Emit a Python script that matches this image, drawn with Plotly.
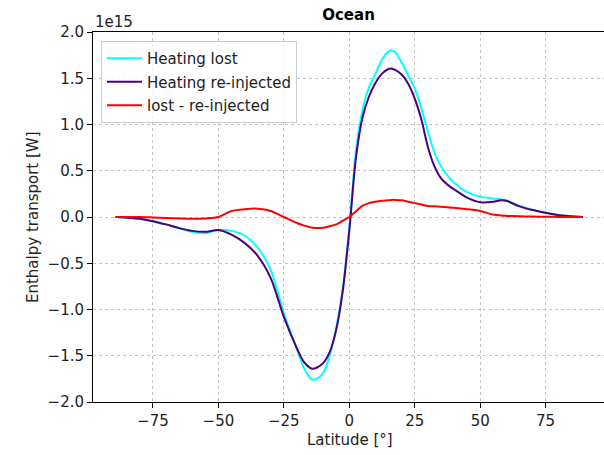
import plotly.graph_objects as go

# Latitudes (degrees)
lat = [-89.3, -80, -75, -70, -65, -60, -55, -50, -45, -40, -35, -30, -25, -20,
       -17.5, -15, -14, -12.5, -10, -7.5, -5, -2.5, 0, 2.5, 5, 7.5, 10, 12.5,
       15, 16, 17.5, 20, 22.5, 25, 27.5, 30, 32.5, 35, 37.5, 40, 45, 50, 55, 58, 60,
       65, 70, 75, 80, 89.2]

# Enthalpy transport in units of 1e15 W
heating_lost = [0, -0.02, -0.05, -0.08, -0.12, -0.16, -0.175, -0.14, -0.15, -0.2,
                -0.33, -0.57, -1.04, -1.43, -1.62, -1.74, -1.76, -1.75, -1.69, -1.5,
                -1.2, -0.78, -0.12, 0.7, 1.15, 1.4, 1.55, 1.7, 1.79, 1.80, 1.78,
                1.67, 1.53, 1.39, 1.18, 0.93, 0.7, 0.55, 0.45, 0.37, 0.27, 0.22, 0.2, 0.19,
                0.18, 0.12, 0.08, 0.045, 0.02, 0]

heating_reinjected = [0, -0.02, -0.045, -0.08, -0.12, -0.15, -0.16, -0.14, -0.19, -0.28,
                      -0.42, -0.66, -1.08, -1.42, -1.56, -1.63, -1.64, -1.63, -1.58, -1.46,
                      -1.22, -0.8, -0.15, 0.63, 1.07, 1.3, 1.45, 1.55, 1.6, 1.606, 1.59,
                      1.54, 1.44, 1.28, 1.06, 0.76, 0.55, 0.42, 0.35, 0.3, 0.21, 0.16, 0.165, 0.18,
                      0.175, 0.115, 0.075, 0.045, 0.02, 0]

lost_minus_reinjected = [0, 0, -0.005, -0.01, -0.015, -0.02, -0.015, 0.0, 0.065, 0.085,
                         0.09, 0.065, 0.0, -0.065, -0.09, -0.11, -0.117, -0.12, -0.115, -0.1,
                         -0.08, -0.04, 0.0, 0.06, 0.12, 0.15, 0.165, 0.175, 0.18, 0.185, 0.185,
                         0.18, 0.165, 0.15, 0.135, 0.12, 0.115, 0.11, 0.105, 0.1, 0.085, 0.065, 0.026,
                         0.015, 0.012, 0.008, 0.005, 0.003, 0.001, 0]

series = [
    ("Heating lost", heating_lost, "#00ffff"),
    ("Heating re-injected", heating_reinjected, "#4b0082"),
    ("lost - re-injected", lost_minus_reinjected, "#ff0000"),
]

xticks = [-75, -50, -25, 0, 25, 50, 75]
yticks = [-2.0, -1.5, -1.0, -0.5, 0.0, 0.5, 1.0, 1.5, 2.0]

FONT = "DejaVu Sans"
FS = 15
TXT = "#222222"

fig = go.Figure()
for i, (name, vals, color) in enumerate(series):
    fig.add_trace(go.Scatter(
        x=lat, y=vals, mode="lines", name=name, legendgroup=f"g{i}",
        line=dict(color=color, width=2, shape="spline", smoothing=0.8),
    ))

axis_common = dict(
    showline=True, linecolor="black", linewidth=1, mirror=True,
    ticks="outside", ticklen=5, tickcolor="black", tickwidth=1,
    showgrid=True, gridcolor="#c4c4c4", griddash="dot", gridwidth=1,
    zeroline=False, automargin=False,
    tickfont=dict(family=FONT, size=FS, color=TXT),
)

PW = 604 - 93
PH = 402 - 32

fig.update_layout(
    width=604, height=455,
    margin=dict(l=93, r=0, t=32, b=53, autoexpand=False),
    paper_bgcolor="white", plot_bgcolor="white",
    font=dict(family=FONT, size=FS, color=TXT),
    title=dict(text="<b>Ocean</b>", x=0.5, xref="paper", y=1 - 15 / 455,
               yref="container", xanchor="center", yanchor="middle",
               font=dict(family=FONT, size=FS, color="black")),
    xaxis=dict(range=[-97.9, 97.3], tickvals=xticks, **axis_common),
    yaxis=dict(range=[-2.0, 2.0], tickvals=yticks, tickformat=".1f", **axis_common),
    showlegend=True,
    legend=dict(x=(101 - 93) / PW, y=1 - (41 - 32) / PH, xanchor="left", yanchor="top",
                bgcolor="rgba(255,255,255,0.8)", bordercolor="#cccccc", borderwidth=1,
                font=dict(family=FONT, size=FS, color=TXT), tracegroupgap=1,
                itemwidth=35),
    annotations=[
        dict(text="1e15", xref="paper", yref="paper", x=0, y=1 + 10 / PH,
             xanchor="left", yanchor="middle", showarrow=False,
             font=dict(family=FONT, size=FS, color=TXT)),
        dict(text="Enthalpy transport [W]", xref="paper", yref="paper",
             x=(33 - 93) / PW, y=0.5, xanchor="center", yanchor="middle",
             textangle=-90, showarrow=False,
             font=dict(family=FONT, size=FS, color=TXT)),
        dict(text="Latitude [°]", xref="paper", yref="paper",
             x=(350 - 93) / PW, y=-(440 - 402) / PH, xanchor="center", yanchor="middle",
             showarrow=False, font=dict(family=FONT, size=FS, color=TXT)),
    ],
)

fig.write_html("out.html", config={"displayModeBar": False},
               post_script="document.body.style.margin='0';document.body.style.overflow='hidden';")
